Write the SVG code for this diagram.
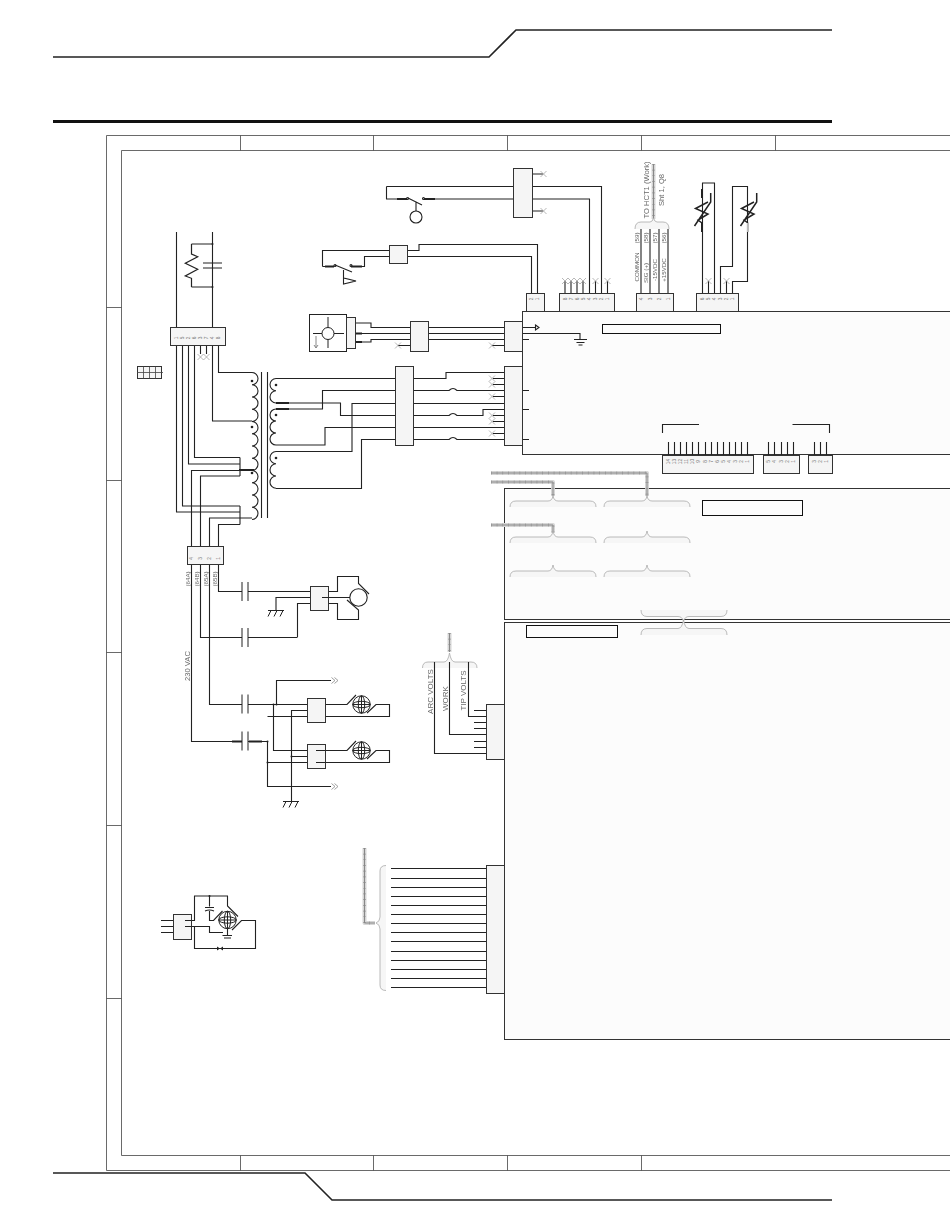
<svg xmlns="http://www.w3.org/2000/svg" width="950" height="1229" viewBox="0 0 950 1229">
<style>
text{font-family:"Liberation Sans",Arial,sans-serif;fill:#666}
.w,.w path,.w line,.w polyline,.w circle,.w ellipse{fill:none;stroke:#222;stroke-width:1.1}
.b{fill:#f5f5f5;stroke:#333;stroke-width:1}
.m{fill:#fcfcfc;stroke:#333;stroke-width:1}
.n{fill:#fcfcfc;stroke:#111;stroke-width:1}
.f{fill:none;stroke:#444;stroke-width:.8}
.h{fill:none;stroke:#222;stroke-width:2}
.z{fill:none;stroke:#222;stroke-width:1.5}
.x{fill:none;stroke:#999;stroke-width:.7}
.p{font-size:4.8px;text-anchor:middle;fill:#777}
.l{font-size:6.2px;text-anchor:middle}
.t{font-size:7.6px;text-anchor:middle}
.br{fill:#f6f6f6;stroke:#aaa;stroke-width:.8}
.c1{fill:none;stroke:#d6d6d6;stroke-width:4;stroke-linejoin:round}
.c2{fill:none;stroke:#888;stroke-width:1}
.c3{fill:none;stroke:#999;stroke-width:3;stroke-dasharray:.7 5}
.d{fill:#222}
</style>
<defs>
<path id="xm" class="x" d="M-3 -3L3 3M-3 3L3 -3"/>
<g id="cap"><line x1="0" y1="-9.5" x2="0" y2="9.5" stroke="#222"/><line x1="6" y1="-9.5" x2="6" y2="9.5" stroke="#222"/></g>
<g id="fan" fill="none" stroke="#222" stroke-width="1"><circle r="8.7"/><ellipse rx="8.7" ry="3.2"/><ellipse rx="3.2" ry="8.7"/><line x1="-8.7" x2="8.7"/><line y1="-8.7" y2="8.7"/></g>
<g id="gnd" fill="none" stroke="#222" stroke-width="1"><line x1="-8" x2="8"/><path d="M-5 0L-8 6M1 0L-2 6M7 0L4 6"/></g>
<g id="arr" fill="none" stroke="#888" stroke-width=".8"><path d="M0 -3L3.500 0L0 3M3 -3L6.500 0L3 3"/></g>
</defs>

<g id="page-frame">
<path class="h" style="stroke-width:1.6" d="M53 57H489L516 30H832"/>
<line x1="53" y1="121.500" x2="832" y2="121.500" stroke="#111" stroke-width="3"/>
<path class="h" style="stroke-width:1.6" d="M53 1173H305L332 1200H832"/>
<path class="f" d="M950 135.500H106.500V1170.500H950M950 150.500H121.500V1155.500H950"/>
<path class="f" d="M240.500 135.500V150.500M373.500 135.500V150.500M507.500 135.500V150.500M641.500 135.500V150.500M775.500 135.500V150.500M240.500 1155.500V1170.500M373.500 1155.500V1170.500M507.500 1155.500V1170.500M641.500 1155.500V1170.500M106.500 307.500H121.500M106.500 480.500H121.500M106.500 652.500H121.500M106.500 825.500H121.500M106.500 998.500H121.500"/>
</g>

<g id="board-top"><rect class="m" x="522.500" y="311.500" width="440" height="143"/><rect class="n" x="602.500" y="324.500" width="118" height="9"/></g>
<g id="board-mid"><rect class="m" x="504.500" y="488.500" width="460" height="131"/><rect class="n" x="702.500" y="500.500" width="100" height="15"/></g>
<g id="board-low"><rect class="m" x="504.500" y="622.500" width="460" height="417"/><rect class="n" x="526.500" y="625.500" width="91" height="12"/></g>

<g id="cables">
<path class="c1" d="M491 473H647V496M491 482H553V496M491 525H553V533M653.500 164V219M449.500 633V652M364.500 848V923H375"/>
<path class="c3" d="M491 473H647V496M491 482H553V496M491 525H553V533M653.500 164V219M449.500 633V652M364.500 848V923H375"/>
<path class="c2" d="M491 473H647V496M491 482H553V496M491 525H553V533M653.500 164V219M449.500 633V652M364.500 848V923H375"/>
</g>

<g id="braces">
<path class="br" d="M510 507Q510 501 516 501H548Q552 501 553 496Q554 501 558 501H590Q596 501 596 507"/>
<path class="br" d="M604 507Q604 501 610 501H642Q646 501 647 496Q648 501 652 501H684Q690 501 690 507"/>
<path class="br" d="M510 543Q510 537 516 537H548Q552 537 553 531Q554 537 558 537H590Q596 537 596 543"/>
<path class="br" d="M604 543Q604 537 610 537H642Q646 537 647 531Q648 537 652 537H684Q690 537 690 543"/>
<path class="br" d="M510 577Q510 571 516 571H548Q552 571 553 565Q554 571 558 571H590Q596 571 596 577"/>
<path class="br" d="M604 577Q604 571 610 571H642Q646 571 647 565Q648 571 652 571H684Q690 571 690 577"/>
<path class="br" d="M641 610Q641 616.500 647 616.500H678Q682 616.500 683.500 621Q685 616.500 689 616.500H721Q727 616.500 727 610"/>
<path class="br" d="M641 635Q641 628.500 647 628.500H678Q682 628.500 683.500 620Q685 628.500 689 628.500H721Q727 628.500 727 635"/>
<path class="br" d="M422.500 668Q422.500 662 428 662H444Q448 662 449.500 653Q451 662 455 662H471Q477 662 477 668"/>
<path class="br" d="M635 229Q635 222 641 222H650Q652.500 222 653.500 218Q654.500 222 657 222H663Q669 222 669 229"/>
<path class="br" d="M386 865.500Q380 865.500 380 871V917Q380 921.500 376 923Q380 924.500 380 929V985Q380 990.500 386 990.500"/>
</g>

<g id="connectors" class="w">
<path d="M176.500 232V327M212.500 232V327M191.500 244H212.500M191.500 287H212.500M212.500 244V263M212.500 268V287M203 263H222M203 268H222"/>
<path d="M176.500 345V512H240M182.500 345V506H240M188.500 345V464H240M194.500 345V457.500H240M212.500 345V421H252M218.500 345V372.500H252M240 457.500V476M240 506V524.500M240 518H252M191.500 546V470.500H240M200.500 546V476H240M209.500 546V518H240M218.500 546V524.500H240"/>
<path d="M200.500 345V354M206.500 345V354"/>
<path d="M252 372.500a6 6.120 0 0 1 0 12.250a6 6.120 0 0 1 0 12.250a6 6.120 0 0 1 0 12.250a6 6.120 0 0 1 0 12.250a6 6.120 0 0 1 0 12.250a6 6.120 0 0 1 0 12.250a6 6.120 0 0 1 0 12.250a6 6.120 0 0 1 0 12.250a6 6.120 0 0 1 0 12.250a6 6.120 0 0 1 0 12.250a6 6.120 0 0 1 0 12.250a6 6.120 0 0 1 0 12.250"/>
<path d="M261.500 372V518M267.500 372V518"/>
<path d="M276 378.500a6 6.120 0 0 0 0 12.250a6 6.120 0 0 0 0 12.250M276 409a6 6 0 0 0 0 12a6 6 0 0 0 0 12a6 6 0 0 0 0 12M276 451.500a6 6.120 0 0 0 0 12.250a6 6.120 0 0 0 0 12.250a6 6.120 0 0 0 0 12.250"/>
<path d="M276 378.500H395M276 403H340.500V415.500H395M276 409H322.500V390.500H395M276 445H325V427.500H395M276 451.500H352V403.500H395M276 488.500H361.500V439.500H395"/>
<path d="M413 378.500H446V372.500H504M413 390.500H449Q453 386.500 457 390.500H504M413 403.500H504M413 415.500H449Q453 411.500 457 415.500H483V409.500H504M413 427.500H504M413 439.500H449Q453 435.500 457 439.500H504"/>
<path d="M493 378.500H504M493 384.500H504M493 396.500H504M493 415.500H504M493 421.500H504M493 433.500H504M516 390.500H529M516 409.500H529M516 439.500H529"/>
<path d="M428 327.500H504M428 333.500H504M428 339.500H504M398 345.500H410M492 345.500H504M356 323H371V327.500H410M356 333.500H410M356 342H371V339.500H410M522 327.500H536M522 333.500H580V339M522 339.500H529M574 339.500H587M576.500 342.500H584.500M578.500 345H582.500"/>
<path d="M535.500 325L539 327.500L535.500 330Z"/>
<path d="M386.500 186.500V199H407M408 198L422 205M424 199H513M386.500 186.500H513M532 186.500H601.500V293M532 199H589.500V293M532 174H543M532 211H543M416 201.500V211"/>
<path d="M322.500 266.500V250.500H389M322.500 266.500H334M335 265L352 272M351 266.500H364.500V256.500H389M407 250.500H419V244.500H537.500V293M407 256.500H531.500V293M343.500 270V278M343.500 278V284L356 281Z"/>
<path d="M565 281V293M571 281V293M577 281V293M583 281V293M595.500 281V293M607.500 281V293"/>
<path d="M641 229V293M650 229V293M659 229V293M668 229V293"/>
<path d="M702.500 293V183H714.500V293M708.500 281V293M720.500 293V266.500H732.500V186.500H747.500V281.500H732.500V293M726.500 281V293"/>
<path d="M668.500 442V455M674.500 442V455M680.500 442V455M686.500 442V455M692.500 442V455M698.500 442V455M705.500 442V455M711.500 442V455M717.500 442V455M723.500 442V455M729.500 442V455M735.500 442V455M741.500 442V455M747.500 442V455M768.500 442V455M774.500 442V455M781.500 442V455M787.500 442V455M793.500 442V455M814.500 442V455M820.500 442V455M826.500 442V455M662.500 433V424.500H699M792.500 424.500H829.500V433"/>
<path d="M218.500 564V591.500H242M248 591.500H310M276 610V597.500H310M297.500 637V603.500H310M200.500 564V637.500H242M248 637.500H297.500M209.500 564V704.500H242M248 704.500H307M191.500 564V741.500H242M248 741.500H267.500"/>
<path d="M328 591.500H337.500V576.500H358.500V583.500L369 594M322 597.500H350M328 603.500H337.500V619.500H358.500V610L347 600"/>
<circle cx="358.500" cy="597.500" r="8.700"/>
<path d="M276.500 704.500V680.500H331M273.500 704.500V750.500H316M291.500 801.500V710.500H307M267.500 741.500V786.500H331M267.500 716.500H307M291.500 756.500H307M267.500 762.500H307"/>
<path d="M325 704.500H347L356 695M367 713L376 704.500H389.500V716.500H325M316 750.500H347L356 741M367 759L376 750.500H389.500V762.500H316"/>
<path d="M474 710.500H486M468.500 662V716.500H486M474 722.500H486M474 728.500H486M449.500 662V734.500H486M474 741.500H486M474 747.500H486M434.500 662V753.500H486"/>
<path d="M391 868.500H486M391 878.500H486M391 887.500H486M391 896.500H486M391 905.500H486M391 914.500H486M391 923.500H486M391 932.500H486M391 941.500H486M391 951.500H486M391 960.500H486M391 969.500H486M391 978.500H486M391 987.500H486"/>
<path d="M161 920.500H173M161 926.500H173M161 932.500H173M185 920.500H194.500V896H227.500V906L238 916.500M209.500 896V906.500M205 907.500H214M205 911Q209.500 909 214 911M209.500 911V920.500H213.500L222.500 911M185 926.500H209.500V932.500H223M227.500 929V935.500M222.500 935.500H232M224 938H231M232 930L241.500 920.500H255.500V948.500H194.500V926.500"/>
</g>

<g id="resistor"><path class="z" style="stroke-width:1.2" d="M191.500 244V254L197.700 256.700L185.300 263.300L197.700 269.300L185.300 276L191.500 278.300V287"/></g>
<g id="thermistor-a"><path class="z" d="M710.700 193V202L694.500 226M708 202L695.500 208.500L708 214L698 220L702 223"/></g>
<g id="thermistor-b"><path class="z" d="M756.700 193V202L740.500 226M754 202L741.500 208.500L754 214L744 220L748 223"/></g>

<g id="heavy-leads">
<path class="h" d="M239 470H254M276 403H289M276 409H289M356 333.500H362M356 342H362M325 266.500H334M351 266.500H362M397 199H407M424 199H435M702 189V198M702 223V232M232 741.500H242M249 741.500H262"/>
<path fill="none" stroke="#bbb" stroke-width="2" d="M748 223V232"/>
</g>

<g id="cut-wires">
<use href="#xm" x="200.500" y="357"/><use href="#xm" x="206.500" y="357"/>
<use href="#xm" x="398" y="345.500"/><use href="#xm" x="492" y="345.500"/>
<use href="#xm" x="492" y="378.500"/><use href="#xm" x="492" y="384.500"/><use href="#xm" x="492" y="396.500"/><use href="#xm" x="492" y="415.500"/><use href="#xm" x="492" y="421.500"/><use href="#xm" x="492" y="433.500"/>
<use href="#xm" x="543.500" y="174"/><use href="#xm" x="543.500" y="211"/>
<use href="#xm" x="565" y="281"/><use href="#xm" x="571" y="281"/><use href="#xm" x="577" y="281"/><use href="#xm" x="583" y="281"/><use href="#xm" x="595.500" y="281"/><use href="#xm" x="607.500" y="281"/>
<use href="#xm" x="708.500" y="281"/><use href="#xm" x="726.500" y="281"/>
</g>

<g id="dots">
<circle class="d" cx="252" cy="381" r="1.300"/><circle class="d" cx="252" cy="427" r="1.300"/><circle class="d" cx="252" cy="473" r="1.300"/>
<circle class="d" cx="276" cy="385" r="1.300"/><circle class="d" cx="276" cy="415" r="1.300"/><circle class="d" cx="276" cy="458" r="1.300"/>
<circle class="d" cx="212.500" cy="244" r="1"/><circle class="d" cx="212.500" cy="287" r="1"/>
<circle class="d" cx="276.500" cy="704.500" r="1"/><circle class="d" cx="273.500" cy="704.500" r="1"/><circle class="d" cx="267.500" cy="741.500" r="1"/><circle class="d" cx="291.500" cy="756.500" r="1"/><circle class="d" cx="267.500" cy="762.500" r="1"/><circle class="d" cx="209.500" cy="896" r="1"/>
<path class="d" d="M217 946.500L220 948.500L217 950.500ZM223 946.500L220 948.500L223 950.500Z"/>
</g>

<g id="c-cap1"><use href="#cap" x="242" y="591.500"/></g>
<g id="c-cap2"><use href="#cap" x="242" y="637.500"/></g>
<g id="c-cap3"><use href="#cap" x="242" y="704"/></g>
<g id="c-cap4"><use href="#cap" x="242" y="741"/></g>
<g id="grounds"><use href="#gnd" x="276" y="610.500"/><use href="#gnd" x="291" y="801.500"/></g>
<g id="arrows"><use href="#arr" x="331.500" y="680.500"/><use href="#arr" x="331.500" y="786.500"/></g>

<g id="fan-a"><use href="#fan" x="361.500" y="704.500"/></g>
<g id="fan-b"><use href="#fan" x="361.500" y="750.500"/></g>
<g id="fan-c"><use href="#fan" x="227.500" y="920"/></g>

<g id="limit-switch" class="w"><circle cx="416" cy="217" r="6"/><circle cx="407.500" cy="198.500" r="1"/><circle cx="423.500" cy="198.500" r="1"/></g>
<g id="flow-switch" class="w"><circle cx="335" cy="265.500" r="1"/><circle cx="351" cy="265.500" r="1"/></g>

<g id="fan-unit">
<rect x="309.500" y="314.500" width="37" height="37" fill="#fff" stroke="#222"/>
<rect class="b" x="346.500" y="317.500" width="9" height="31"/>
<path d="M313 333.500H322M334 333.500H344M328 317V327.500M328 339.500V348" fill="none" stroke="#222"/>
<circle cx="328" cy="333.500" r="6" fill="none" stroke="#222"/>
<path d="M316 336V348M314 345L316 348L318 345" fill="none" stroke="#888"/>
</g>

<g id="grid">
<rect class="b" x="137.500" y="366.500" width="24" height="12"/>
<path class="f" d="M143.500 366.500V378.500M149.500 366.500V378.500M155.500 366.500V378.500M137 372.500H163"/>
</g>

<g id="j-primary"><rect class="b" x="170.500" y="327.500" width="55" height="18"/>
<text class="p" transform="translate(177.700 338) rotate(-90)">1</text><text class="p" transform="translate(183.700 338) rotate(-90)">5</text><text class="p" transform="translate(189.700 338) rotate(-90)">2</text><text class="p" transform="translate(195.700 338) rotate(-90)">6</text><text class="p" transform="translate(201.700 338) rotate(-90)">3</text><text class="p" transform="translate(207.700 338) rotate(-90)">7</text><text class="p" transform="translate(213.700 338) rotate(-90)">4</text><text class="p" transform="translate(219.700 338) rotate(-90)">8</text></g>
<g id="j-secondary"><rect class="b" x="395.500" y="366.500" width="18" height="79"/></g>
<g id="j-right"><rect class="b" x="504.500" y="366.500" width="18" height="79"/></g>
<g id="j-fan1"><rect class="b" x="410.500" y="321.500" width="18" height="30"/></g>
<g id="j-fan2"><rect class="b" x="504.500" y="321.500" width="18" height="30"/></g>
<g id="j-relay"><rect class="b" x="389.500" y="245.500" width="18" height="18"/></g>
<g id="j-top"><rect class="b" x="513.500" y="168.500" width="19" height="49"/></g>
<g id="j-2pin"><rect class="b" x="526.500" y="293.500" width="18" height="18"/>
<text class="p" transform="translate(533 299) rotate(-90)">2</text><text class="p" transform="translate(539 299) rotate(-90)">1</text></g>
<g id="j-8pin"><rect class="b" x="559.500" y="293.500" width="55" height="18"/>
<text class="p" transform="translate(566.500 299) rotate(-90)">8</text><text class="p" transform="translate(572.500 299) rotate(-90)">7</text><text class="p" transform="translate(578.500 299) rotate(-90)">6</text><text class="p" transform="translate(584.500 299) rotate(-90)">5</text><text class="p" transform="translate(591 299) rotate(-90)">4</text><text class="p" transform="translate(597 299) rotate(-90)">3</text><text class="p" transform="translate(603 299) rotate(-90)">2</text><text class="p" transform="translate(609 299) rotate(-90)">1</text></g>
<g id="j-4pin"><rect class="b" x="636.500" y="293.500" width="37" height="18"/>
<text class="p" transform="translate(642.500 299) rotate(-90)">4</text><text class="p" transform="translate(651.500 299) rotate(-90)">3</text><text class="p" transform="translate(660.500 299) rotate(-90)">2</text><text class="p" transform="translate(669.500 299) rotate(-90)">1</text></g>
<g id="j-6pin"><rect class="b" x="696.500" y="293.500" width="42" height="18"/>
<text class="p" transform="translate(703.500 299) rotate(-90)">6</text><text class="p" transform="translate(709.500 299) rotate(-90)">5</text><text class="p" transform="translate(715.500 299) rotate(-90)">4</text><text class="p" transform="translate(721.500 299) rotate(-90)">3</text><text class="p" transform="translate(727.500 299) rotate(-90)">2</text><text class="p" transform="translate(733.500 299) rotate(-90)">1</text></g>
<g id="j-14pin"><rect class="b" x="662.500" y="455.500" width="91" height="18"/>
<text class="p" transform="translate(670 461.500) rotate(-90)">14</text><text class="p" transform="translate(676 461.500) rotate(-90)">13</text><text class="p" transform="translate(682 461.500) rotate(-90)">12</text><text class="p" transform="translate(688 461.500) rotate(-90)">11</text><text class="p" transform="translate(694 461.500) rotate(-90)">10</text><text class="p" transform="translate(700 461.500) rotate(-90)">9</text><text class="p" transform="translate(707 461.500) rotate(-90)">8</text><text class="p" transform="translate(713 461.500) rotate(-90)">7</text><text class="p" transform="translate(719 461.500) rotate(-90)">6</text><text class="p" transform="translate(725 461.500) rotate(-90)">5</text><text class="p" transform="translate(731 461.500) rotate(-90)">4</text><text class="p" transform="translate(737 461.500) rotate(-90)">3</text><text class="p" transform="translate(743 461.500) rotate(-90)">2</text><text class="p" transform="translate(749 461.500) rotate(-90)">1</text></g>
<g id="j-5pin"><rect class="b" x="763.500" y="455.500" width="36" height="18"/>
<text class="p" transform="translate(770 461.500) rotate(-90)">5</text><text class="p" transform="translate(776 461.500) rotate(-90)">4</text><text class="p" transform="translate(783 461.500) rotate(-90)">3</text><text class="p" transform="translate(789 461.500) rotate(-90)">2</text><text class="p" transform="translate(795 461.500) rotate(-90)">1</text></g>
<g id="j-3pin"><rect class="b" x="808.500" y="455.500" width="24" height="18"/>
<text class="p" transform="translate(816 461.500) rotate(-90)">3</text><text class="p" transform="translate(822 461.500) rotate(-90)">2</text><text class="p" transform="translate(828 461.500) rotate(-90)">1</text></g>
<g id="j-supply"><rect class="b" x="187.500" y="546.500" width="36" height="18"/>
<text class="p" transform="translate(193 558.500) rotate(-90)">4</text><text class="p" transform="translate(202 558.500) rotate(-90)">3</text><text class="p" transform="translate(211 558.500) rotate(-90)">2</text><text class="p" transform="translate(220 558.500) rotate(-90)">1</text></g>
<g id="j-blower"><rect class="b" x="310.500" y="586.500" width="18" height="24"/><path d="M322 597.500H328.500" stroke="#222"/></g>
<g id="j-fan-a"><rect class="b" x="307.500" y="698.500" width="18" height="24"/></g>
<g id="j-fan-b"><rect class="b" x="307.500" y="744.500" width="18" height="24"/><path d="M316 750.500H325.500M316 762.500H325.500" stroke="#222"/></g>
<g id="j-volts"><rect class="b" x="486.500" y="704.500" width="18" height="55"/></g>
<g id="j-ribbon"><rect class="b" x="486.500" y="865.500" width="18" height="128"/></g>
<g id="j-small"><rect class="b" x="173.500" y="914.500" width="18" height="25"/><path d="M185 920.500H191.500M185 926.500H191.500" stroke="#222"/></g>

<g id="labels" opacity=".98">
<text class="t" transform="translate(648.500 190) rotate(-90)">TO  HCT1 (Work)</text>
<text class="t" transform="translate(664.300 190) rotate(-90)">Sht 1, Q8</text>
<text class="l" transform="translate(638.800 267) rotate(-90)">COMMON</text><text class="l" transform="translate(638.800 238) rotate(-90)">(59)</text>
<text class="l" transform="translate(648 273) rotate(-90)">SIG (+)</text><text class="l" transform="translate(648 238) rotate(-90)">(58)</text>
<text class="l" transform="translate(657 270) rotate(-90)">-15VDC</text><text class="l" transform="translate(657 238) rotate(-90)">(57)</text>
<text class="l" transform="translate(666 270) rotate(-90)">+15VDC</text><text class="l" transform="translate(666 238) rotate(-90)">(56)</text>
<text class="l" transform="translate(189.500 579) rotate(-90)">(64A)</text><text class="l" transform="translate(198.500 579) rotate(-90)">(64B)</text><text class="l" transform="translate(207.500 579) rotate(-90)">(65A)</text><text class="l" transform="translate(216.500 579) rotate(-90)">(65B)</text>
<text class="t" transform="translate(190 666) rotate(-90)">230 VAC</text>
<text class="t" transform="translate(433 691.500) rotate(-90)" style="font-size:8px">ARC VOLTS</text>
<text class="t" transform="translate(448 698.500) rotate(-90)" style="font-size:8px">WORK</text>
<text class="t" transform="translate(466 690.500) rotate(-90)" style="font-size:8px">TIP VOLTS</text>
</g>
</svg>
